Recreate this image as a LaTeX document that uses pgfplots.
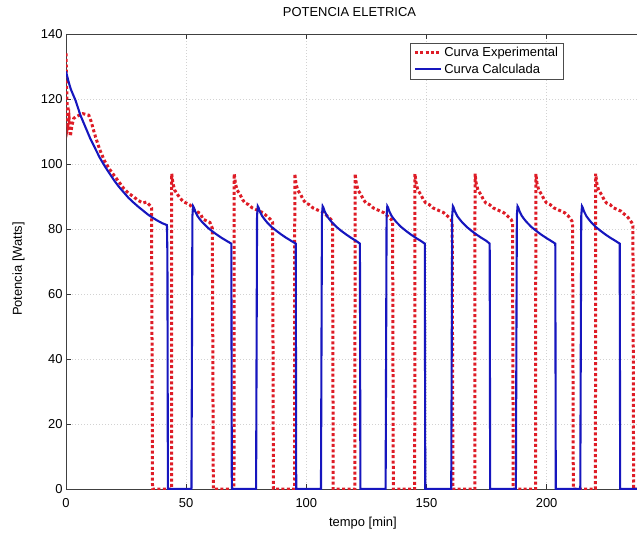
\documentclass[border=0pt]{standalone}
\usepackage{fontspec}
\setmainfont{Liberation Sans}
\usepackage{pgfplots}
\pgfplotsset{compat=1.18}
\definecolor{expred}{RGB}{222,28,38}
\definecolor{calcblue}{RGB}{22,22,190}
\newcommand{\ff}{\fontsize{13}{15}\selectfont}
\begin{document}
\begin{tikzpicture}
\path[use as bounding box] (-66bp,-46bp) rectangle (571bp,489bp);
\begin{axis}[
  at={(0,0)}, anchor=south west,
  scale only axis, width=571bp, height=455bp,
  xmin=0, xmax=237.6, ymin=0, ymax=140,
  axis x line*=box, axis y line*=left,
  tick align=inside,
  xtick={0,50,100,150,200},
  ytick={0,20,40,60,80,100,120,140},
  /pgf/number format/assume math mode=true,
  tick label style={font=\ff},
  xticklabel style={anchor=base, yshift=-18bp},
  major tick length=5bp,
  tick style={black!80, line width=0.5bp},
  axis line style={black!75, line width=0.7bp},
  grid=major,
  major grid style={gray!35, dash pattern=on 1bp off 2bp, line width=0.6bp},
  title={POTENCIA ELETRICA},
  title style={at={(axis description cs:0.4965,1)}, anchor=base, yshift=12bp, font=\ff},
  xlabel={tempo [min]},
  xlabel style={at={(axis description cs:0.52,0)}, anchor=base, yshift=-37bp, font=\ff},
  ylabel={Potencia [Watts]},
  ylabel style={at={(axis description cs:-0.0771,0.4835)}, anchor=base, font=\ff},
  legend style={at={(axis description cs:0.6025,0.9796)}, anchor=north west,
    draw=black!70, line width=0.5bp, fill=white, font=\ff,
    inner xsep=3bp, inner ysep=2bp, row sep=1.5bp},
  legend cell align=left,
  legend image code/.code={\draw[#1] (5bp,0bp) -- (31bp,0bp);},
]
\addplot[expred, line width=3bp, dash pattern=on 3bp off 2.4bp] coordinates {
(0,134) (0.4,120) (0.8,112) (1.3,114) (1.8,108.5) (2.5,112) (3.2,114) (4,114.5) (7,115.5) (9.5,115) (10.5,113) (12,109) (14,104.5) (16,101) (18,98.5) (20,96.5) (22,94.5) (24,92.5) (26,91) (28,90) (30,88.8) (32,88) (33.5,88.3) (35.3,87) (35.6,86.5) (36,0) (43.9,0)
(44,97) (44.5,94) (45.2,92) (46.5,90.5) (47.5,89.5) (48.8,88.4) (50,88) (51.6,87.4) (53,86) (55.8,84.8) (57.1,83) (59.9,82) (60.9,80.2) (61.3,0) (69.9,0)
(70,97) (70.5,94) (71.2,92) (72.5,90.5) (73.5,89) (74.5,88) (76,87.5) (77.5,86.5) (79,86) (80.5,85.5) (82,85) (83.5,84) (85,83) (86,82) (86.3,0) (95.1,0)
(95.2,97) (95.7,94) (96.4,92) (97.7,90.5) (98.7,89) (99.7,88) (101.2,87.5) (102.7,86.5) (104.2,86) (105.7,85.5) (107.2,85) (108.7,84) (110.2,83) (110.9,82) (111.2,0) (120.2,0)
(120.3,97) (120.8,94) (121.5,92) (122.8,90.5) (123.8,89) (124.8,88) (126.3,87.5) (127.8,86.5) (129.3,86) (130.8,85.5) (132.3,85) (133.8,84) (135.3,83) (135.9,82) (136.2,0) (145.1,0)
(145.2,97) (145.7,94) (146.4,92) (147.7,90.5) (148.7,89) (149.7,88) (151.2,87.5) (152.7,86.5) (154.2,86) (155.7,85.5) (157.2,85) (158.7,84) (160.2,83) (160.7,82) (161.0,0) (170.1,0)
(170.2,97) (170.7,94) (171.4,92) (172.7,90.5) (173.7,89) (174.7,88) (176.2,87.5) (177.7,86.5) (179.2,86) (180.7,85.5) (182.2,85) (183.7,84) (185.2,83) (185.8,82) (186.1,0) (195.4,0)
(195.5,97) (196,94) (196.7,92) (198,90.5) (199,89) (200,88) (201.5,87.5) (203,86.5) (204.5,86) (206,85.5) (207.5,85) (209,84) (210.5,82.5) (210.8,81) (211.1,0) (220.3,0)
(220.4,97) (220.9,94) (221.6,92) (222.9,90.5) (223.9,89) (224.9,88) (226.4,87.5) (227.9,86.5) (229.4,86) (230.9,85.5) (232.4,84.5) (233.9,83.5) (235.4,82) (235.9,81) (236.2,0) (237.6,0)
};
\addlegendentry{Curva Experimental}
\addplot[calcblue, line width=2.1bp] coordinates {
(0,128.5) (1,125.5) (2,123) (4,119.5) (6,115) (8,111.5) (10,108) (12,105) (14,102) (16,99.5) (18,97.2) (20,95) (22,93) (24,91.3) (26,89.6) (28,88.2) (30,86.9) (32,85.7) (34,84.5) (36,83.5) (38,82.6) (40,81.8) (42,81.2) (42.2,72) (42.4,0) (52.2,0)
(52.6,84) (52.9,87) (53.2,86.6) (53.7,85.5) (54.7,84) (55.7,83) (56.7,82.1) (58.7,80.6) (60.7,79.4) (62.7,78.3) (64.7,77.3) (66.7,76.4) (68.8,75.5) (69.0,0) (79.1,0)
(79.5,84) (79.8,87) (80.1,86.6) (80.6,85.5) (81.6,84) (82.6,83) (83.6,82.1) (85.6,80.6) (87.6,79.4) (89.6,78.3) (91.6,77.3) (93.6,76.4) (95.6,75.5) (95.8,0) (106.1,0)
(106.5,84) (106.8,87) (107.1,86.6) (107.6,85.5) (108.6,84) (109.6,83) (110.6,82.1) (112.6,80.6) (114.6,79.4) (116.6,78.3) (118.6,77.3) (120.6,76.4) (122.3,75.5) (122.5,0) (133.0,0)
(133.4,84) (133.7,87) (134.0,86.6) (134.5,85.5) (135.5,84) (136.5,83) (137.5,82.1) (139.5,80.6) (141.5,79.4) (143.5,78.3) (145.5,77.3) (147.5,76.4) (149.3,75.5) (149.5,0) (160.3,0)
(160.7,84) (161.0,87) (161.3,86.6) (161.8,85.5) (162.8,84) (163.8,83) (164.8,82.1) (166.8,80.6) (168.8,79.4) (170.8,78.3) (172.8,77.3) (174.8,76.4) (176.3,75.5) (176.5,0) (187.2,0)
(187.6,84) (187.9,87) (188.2,86.6) (188.7,85.5) (189.7,84) (190.7,83) (191.7,82.1) (193.7,80.6) (195.7,79.4) (197.7,78.3) (199.7,77.3) (201.7,76.4) (203.6,75.5) (203.8,0) (214.0,0)
(214.4,84) (214.7,87) (215.0,86.6) (215.5,85.5) (216.5,84) (217.5,83) (218.5,82.1) (220.5,80.6) (222.5,79.4) (224.5,78.3) (226.5,77.3) (228.5,76.4) (230.4,75.5) (230.6,0) (237.6,0)
};
\addlegendentry{Curva Calculada}
\end{axis}
\end{tikzpicture}
\end{document}
